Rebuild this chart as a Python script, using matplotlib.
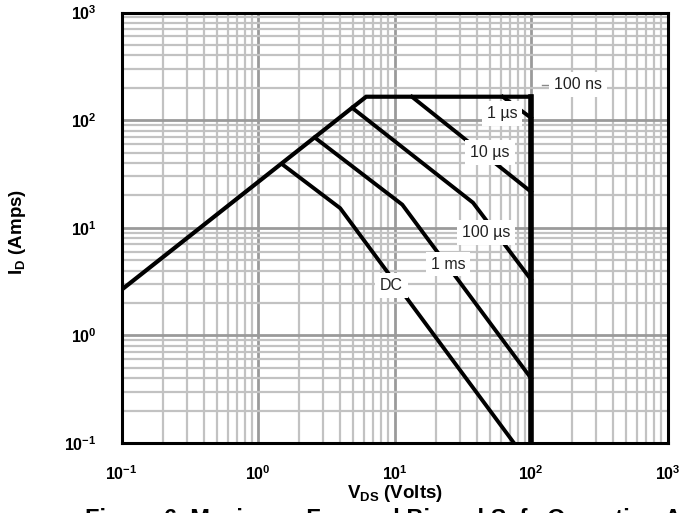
import matplotlib
matplotlib.use("Agg")
import matplotlib.pyplot as plt
from matplotlib.ticker import LogLocator, FixedLocator

plt.rcParams['font.family'] = ['Liberation Sans', 'DejaVu Sans']
plt.rcParams['mathtext.fontset'] = 'custom'
plt.rcParams['mathtext.rm'] = 'Liberation Sans:bold'
plt.rcParams['mathtext.it'] = 'Liberation Sans:bold'
plt.rcParams['mathtext.bf'] = 'Liberation Sans:bold'

# ---- data (V_DS in volts, I_D in amps) ----
env_v = [0.1, 6.2, 100, 100]
env_i = [2.65, 165, 165, 0.1]

us1_v = [62, 100]
us1_i = [165, 105]

us10_v = [13.4, 100]
us10_i = [165, 21.6]

us100_v = [4.9, 37.6, 100]
us100_i = [130, 17.1, 3.3]

ms1_v = [2.6, 11.4, 100]
ms1_i = [69, 16.4, 0.40]

dc_v = [1.5, 4.0, 75]
dc_i = [39, 15.2, 0.1]

label_text = ["100 ns", "1 µs", "10 µs", "100 µs", "1 ms", "DC"]
label_v = [221, 61.4, 50.1, 46.6, 24.8, 9.53]
label_i = [214, 115, 49.9, 9.04, 4.59, 2.89]

leader_v = [121, 134]
leader_i = [214, 214]

tick_vals = [0.1, 1, 10, 100, 1000]
tick_labels = [r"$10^{-1}$", r"$10^{0}$", r"$10^{1}$", r"$10^{2}$", r"$10^{3}$"]

# ---- figure ----
fig = plt.figure(figsize=(6.87, 5.13), dpi=100)
ax = fig.add_axes([121.5 / 687, 1 - 443 / 513, 546 / 687, 430.5 / 513])
ax.set_xscale('log')
ax.set_yscale('log')
ax.set_xlim(0.1, 1000)
ax.set_ylim(0.1, 1000)

ax.xaxis.set_major_locator(FixedLocator(tick_vals))
ax.yaxis.set_major_locator(FixedLocator(tick_vals))
ax.xaxis.set_minor_locator(LogLocator(base=10, subs=range(2, 10), numticks=20))
ax.yaxis.set_minor_locator(LogLocator(base=10, subs=range(2, 10), numticks=20))
ax.set_xticklabels(tick_labels)
ax.set_yticklabels(tick_labels)
ax.xaxis.set_minor_formatter(plt.NullFormatter())
ax.yaxis.set_minor_formatter(plt.NullFormatter())

ax.grid(which='minor', color='#c2c2c2', linewidth=1.6, zorder=0)
ax.grid(which='major', color='#9a9a9a', linewidth=2.0, zorder=0)
ax.set_axisbelow(True)

ax.tick_params(which='both', length=0)
ax.tick_params(axis='x', which='major', pad=15, labelsize=11.5)
ax.tick_params(axis='y', which='major', pad=18, labelsize=11.5)

for s in ax.spines.values():
    s.set_linewidth(2.2)
    s.set_color('black')

lw = 2.8
ax.plot(env_v, env_i, color='black', lw=3.0, solid_joinstyle='miter', zorder=3)
ax.plot(env_v[2:], env_i[2:], color='black', lw=4.0, zorder=3)
for v, i in [(us1_v, us1_i), (us10_v, us10_i), (us100_v, us100_i),
             (ms1_v, ms1_i), (dc_v, dc_i)]:
    ax.plot(v, i, color='black', lw=lw, zorder=3)

ax.plot(leader_v, leader_i, color='#888888', lw=1.0, zorder=4)

for t, v, i in zip(label_text, label_v, label_i):
    ax.text(v, i, t, ha='center', va='center', fontsize=11.5,
            family=['Liberation Sans', 'DejaVu Sans'], color='#222222',
            bbox=dict(facecolor='white', edgecolor='none', boxstyle='square,pad=0.3'),
            zorder=5)

ax.set_xlabel(r"$\mathrm{V_{DS}}$ (Volts)", fontsize=13.5, fontweight='bold')
ax.set_ylabel(r"$\mathrm{I_{D}}$ (Amps)", fontsize=13.5, fontweight='bold')
ax.xaxis.set_label_coords(0.5, -0.092)
ax.yaxis.set_label_coords(-0.172, 0.49)

fig.text(85 / 687, 5 / 513, "Figure 6. Maximum Forward Biased Safe Operating Area",
         ha='left', va='top', fontsize=17, fontweight='bold')

fig.savefig("out.png", dpi=100)
